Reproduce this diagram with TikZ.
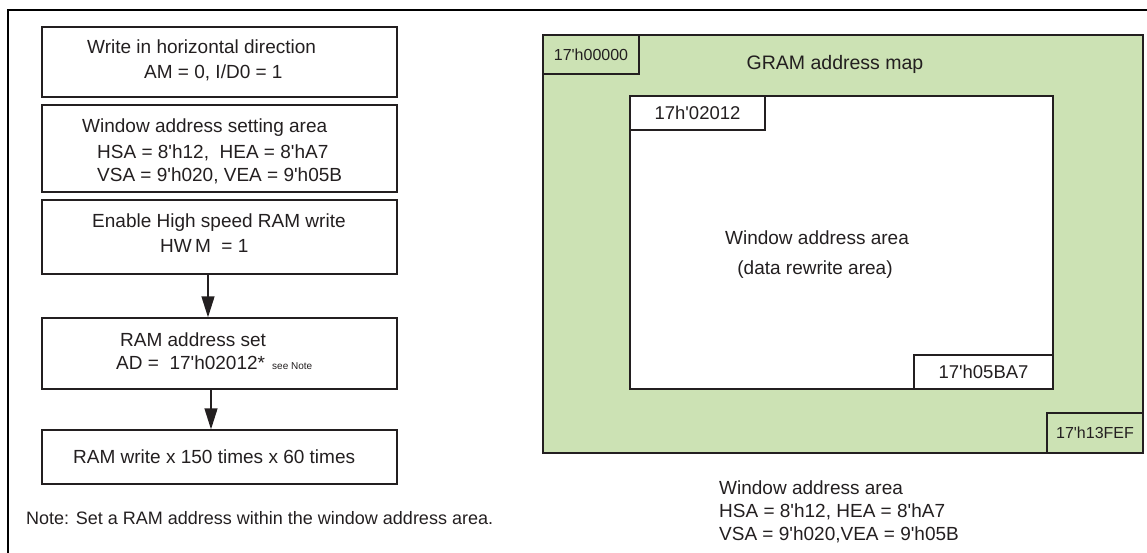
\documentclass[tikz,border=0pt]{standalone}
\usepackage{fontspec}
\setmainfont{Liberation Sans}
\usetikzlibrary{arrows.meta}
\definecolor{ink}{RGB}{35,31,32}
\definecolor{mapgreen}{RGB}{204,226,180}
\newcommand{\apos}{\textquotesingle}
\tikzset{
	txt/.style={anchor=base west, inner sep=0pt, text=ink, font=\fontsize{19}{23}\selectfont},
	ctxt/.style={txt, anchor=base},
	stepbox/.style={draw=ink, line width=1.4pt, minimum width=355pt, inner sep=0pt},
	cell/.style={draw=ink, line width=1.4pt, fill=white, inner sep=0pt, text=ink},
	flow/.style={draw=ink, line width=1.4pt, -{Triangle[length=21pt,width=13pt]}},
}
\begin{document}
\begin{tikzpicture}[x=1pt, y=-1pt]
	\useasboundingbox (0,0) rectangle (1147,553) ;
	\draw[line width=2.5pt] (8,553) -- (8,10) -- (1147,10) ;
	% flow of steps
		\node (b1)[stepbox, minimum height=70pt] at (219.5,62) {} ; 
		\node (b2)[stepbox, minimum height=87pt] at (219.5,148.5) {} ; 
		\node (b3)[stepbox, minimum height=74pt] at (219.5,237) {} ; 
		\node (b4)[stepbox, minimum height=71pt] at (219.5,353.5) {} ; 
		\node (b5)[stepbox, minimum height=54pt] at (219.5,457) {} ; 
		\node (t11)[txt] at (87,54) {Write in horizontal direction} ; 
		\node (t12)[txt] at (144,79) {AM = 0, I/D0 = 1} ; 
		\node (t21)[txt] at (82,133) {Window address setting area} ; 
		\node (t22)[txt] at (97,159) {HSA = 8\apos h12,\ \ HEA = 8\apos hA7} ; 
		\node (t23)[txt] at (97,182) {VSA = 9\apos h020, VEA = 9\apos h05B} ; 
		\node (t31)[txt] at (92,227) {Enable High speed RAM write} ; 
		\node (t32)[txt] at (160,252) {HW\,M\ \ = 1} ; 
		\node (t41)[txt] at (120,346) {RAM address set} ; 
		\node (t42)[txt] at (116,369) {AD =\ \ 17\apos h02012*} ; 
		\node (see)[txt, font=\fontsize{10}{12}\selectfont] at (272,369) {see Note} ; 
		\node (t51)[txt] at (73,463) {RAM write x 150 times x 60 times} ; 
		% \node (note)[txt, font=\fontsize{17}{20}\selectfont] at (26,524) {...} ; 
		\node (note)[txt, font=\fontsize{18}{21}\selectfont] at (26,524) {Note: Set a RAM address within the window address area.} ; 
	\draw[flow] ([xshift=-11.5pt]b3.south) -- ([xshift=-11.5pt]b4.north) ;
	\draw[flow] ([xshift=-8.5pt]b4.south) -- ([xshift=-8.5pt]b5.north) ;
	% GRAM map
	\draw[draw=ink, line width=1.4pt, fill=mapgreen] (543,35) rectangle (1143,453) ;
	\draw[draw=ink, line width=1.4pt, fill=white] (630,96) rectangle (1053,389) ;
		\node (a0)[cell, fill=mapgreen, minimum width=96pt, minimum height=39pt, font=\fontsize{16}{19}\selectfont] at (591,54.5) {17\apos h00000} ; 
		\node (aws)[cell, minimum width=135pt, minimum height=34pt, font=\fontsize{18.5}{22}\selectfont] at (697.5,113) {17h\apos 02012} ; 
		\node (awe)[cell, minimum width=139pt, minimum height=34pt, font=\fontsize{18.5}{22}\selectfont] at (983.5,372) {17\apos h05BA7} ; 
		\node (aend)[cell, fill=mapgreen, minimum width=96pt, minimum height=40pt, font=\fontsize{16}{19}\selectfont] at (1095,433) {17\apos h13FEF} ; 
		\node (gram)[ctxt, font=\fontsize{19.5}{23}\selectfont] at (835,70) {GRAM address map} ; 
		\node (w1)[ctxt] at (817,244) {Window address area} ; 
		\node (w2)[ctxt] at (815,274) {(data rewrite area)} ; 
		\node (c1)[txt] at (719,494) {Window address area} ; 
		\node (c2)[txt] at (719,517) {HSA = 8\apos h12, HEA = 8\apos hA7} ; 
		\node (c3)[txt] at (719,540) {VSA = 9\apos h020,VEA = 9\apos h05B} ; 
\end{tikzpicture}
\end{document}
